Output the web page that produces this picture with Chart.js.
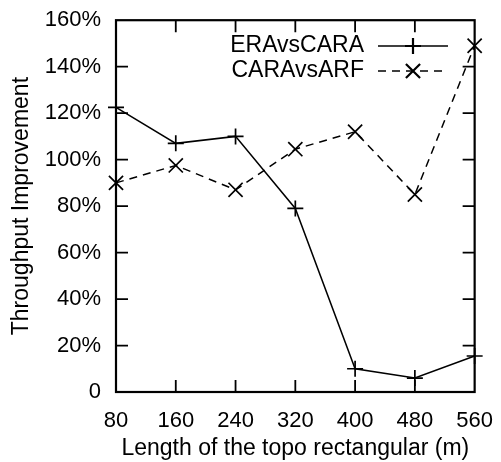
<!DOCTYPE html>
<html>
<head>
<meta charset="utf-8">
<script src="https://cdn.jsdelivr.net/npm/chart.js@4.4.1/dist/chart.umd.min.js"></script>
<style>
  html, body { margin: 0; padding: 0; background: #fff; }
  #wrap { width: 501px; height: 462px; }
</style>
</head>
<body>
<div id="wrap"><canvas id="myLineChart" width="501" height="462"></canvas></div>
<script>
var Lengths = [80, 160, 240, 320, 400, 480, 560];
var EraVsCara = [122.5, 107, 110, 79, 10, 6, 15.5];
var CaraVsArf = [90, 97.5, 87, 104.5, 112, 85, 149];
var SeriesNames = ['ERAvsCARA', 'CARAvsARF'];
var YTicks = [0, 20, 40, 60, 80, 100, 120, 140, 160];

var FONT = '"Liberation Sans", Arial, sans-serif';

function toPoints(xs, ys) {
    var pts = [];
    for (var i = 0; i < xs.length; i++) {
        pts.push({ x: xs[i], y: ys[i] });
    }
    return pts;
}

// gnuplot-style frame with inward ticks on all four sides, plus the key
var framePlugin = {
    id: 'frame',
    afterDatasetsDraw: function (chart) {
        var ctx = chart.ctx;
        var a = chart.chartArea;
        var xs = chart.scales.x, ys = chart.scales.y;
        var t = 12;
        ctx.save();
        ctx.strokeStyle = '#000';
        ctx.lineWidth = 1.8;
        ctx.beginPath();
        for (var i = 1; i < Lengths.length - 1; i++) {
            var px = xs.getPixelForValue(Lengths[i]);
            ctx.moveTo(px, a.bottom); ctx.lineTo(px, a.bottom - t);
            ctx.moveTo(px, a.top); ctx.lineTo(px, a.top + t);
        }
        for (var j = 1; j < YTicks.length - 1; j++) {
            var py = ys.getPixelForValue(YTicks[j]);
            ctx.moveTo(a.left, py); ctx.lineTo(a.left + t, py);
            ctx.moveTo(a.right, py); ctx.lineTo(a.right - t, py);
        }
        ctx.stroke();
        ctx.lineWidth = 2.2;
        ctx.strokeRect(a.left, a.top, a.right - a.left, a.bottom - a.top);

        // key
        ctx.font = '23px ' + FONT;
        ctx.fillStyle = '#000';
        ctx.textAlign = 'right';
        ctx.textBaseline = 'middle';
        var rows = [46, 71];
        chart.data.datasets.forEach(function (ds, k) {
            var y = rows[k];
            ctx.fillText(ds.label, 364, y);
            ctx.save();
            ctx.lineWidth = ds.borderWidth;
            ctx.setLineDash(ds.borderDash || []);
            ctx.beginPath();
            ctx.moveTo(378, y); ctx.lineTo(448, y);
            ctx.stroke();
            ctx.restore();
            Chart.helpers.drawPoint(ctx, {
                pointStyle: ds.pointStyle,
                radius: ds.pointRadius,
                borderWidth: ds.pointBorderWidth
            }, 413, y);
        });
        ctx.restore();
    }
};

var ctx_line = document.getElementById('myLineChart');

var MyLineChart = new Chart(ctx_line, {
    type: 'line',
    data: {
        datasets: [{
            label: SeriesNames[0],
            data: toPoints(Lengths, EraVsCara),
            borderColor: '#000',
            backgroundColor: '#000',
            borderWidth: 1.5,
            pointStyle: 'cross',
            pointRadius: 8,
            pointBorderWidth: 1.7,
            pointBorderColor: '#000',
            fill: false,
            clip: false
        }, {
            label: SeriesNames[1],
            data: toPoints(Lengths, CaraVsArf),
            borderColor: '#000',
            backgroundColor: '#000',
            borderWidth: 1.5,
            borderDash: [8, 6],
            pointStyle: 'crossRot',
            pointRadius: 10,
            pointBorderWidth: 1.7,
            pointBorderColor: '#000',
            fill: false,
            clip: false
        }]
    },
    options: {
        responsive: false,
        animation: false,
        devicePixelRatio: 1,
        layout: { padding: { top: 20, right: 24, left: 0, bottom: 0 } },
        plugins: {
            legend: { display: false },
            tooltip: { enabled: false }
        },
        scales: {
            x: {
                type: 'linear',
                min: 80,
                max: 560,
                afterFit: function (s) { s.height = 70; },
                afterBuildTicks: function (s) {
                    s.ticks = Lengths.map(function (v) { return { value: v }; });
                },
                grid: { display: false },
                border: { display: false },
                ticks: {
                    color: '#000',
                    font: { family: FONT, size: 22 },
                    padding: 8,
                    maxRotation: 0,
                    autoSkip: false
                },
                title: {
                    display: true,
                    text: 'Length of the topo rectangular (m)',
                    color: '#000',
                    font: { family: FONT, size: 23 },
                    padding: { top: 0, bottom: 0 }
                }
            },
            y: {
                min: 0,
                max: 160,
                afterFit: function (s) { s.width = 116; },
                afterBuildTicks: function (s) {
                    s.ticks = YTicks.map(function (v) { return { value: v }; });
                },
                grid: { display: false },
                border: { display: false },
                ticks: {
                    color: '#000',
                    font: { family: FONT, size: 22 },
                    padding: 7,
                    callback: function (v) { return v === 0 ? '0' : v + '%'; }
                },
                title: {
                    display: true,
                    text: 'Throughput Improvement',
                    color: '#000',
                    font: { family: FONT, size: 23 },
                    padding: { top: 8, bottom: 0 }
                }
            }
        }
    },
    plugins: [framePlugin]
});
</script>
</body>
</html>
